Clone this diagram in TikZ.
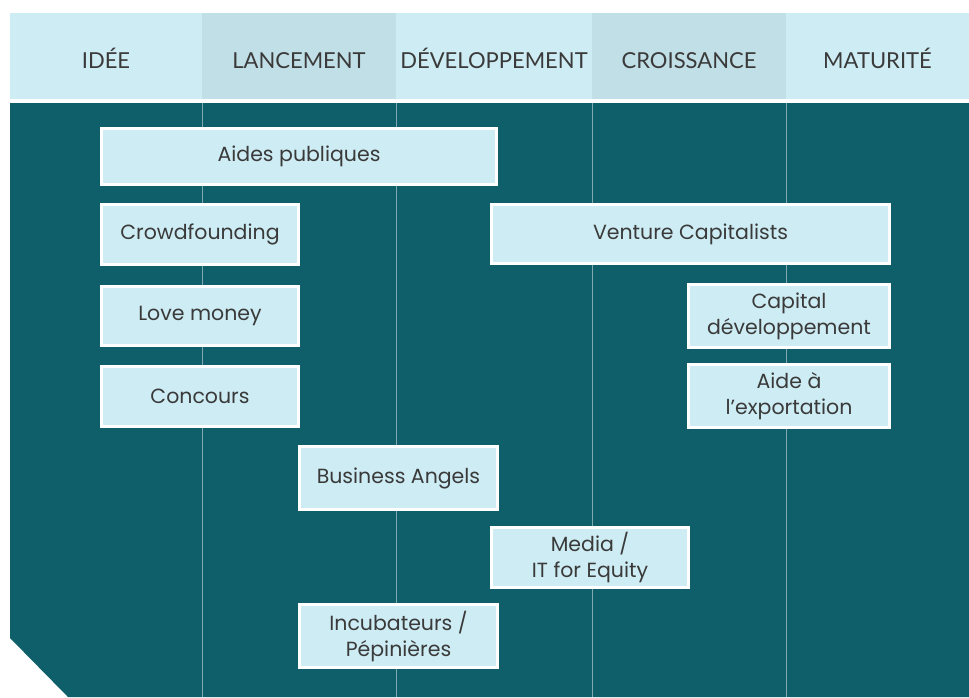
\documentclass[tikz,border=0pt]{standalone}
\usepackage{fontspec}
\setmainfont{Poppins}
\newfontfamily\phasefont{Lato}
\usetikzlibrary{positioning}
\definecolor{darkteal}{HTML}{0F5F6B}
\definecolor{paleblue}{HTML}{CDECF3}
\definecolor{shadeblue}{HTML}{C1DFE6}
\definecolor{gridline}{HTML}{7FA8AF}
\definecolor{inkgray}{HTML}{3A3A3A}

\begin{document}
\begin{tikzpicture}[x=1pt,y=-1pt,
    phase/.style={fill=paleblue, text=inkgray, inner sep=0pt, minimum height=86pt,
      text height=24pt, text depth=0pt, font=\phasefont\fontsize{22}{26}\selectfont},
    box/.style={draw=white, line width=3pt, fill=paleblue, text=inkgray, inner sep=0pt,
      align=center, font=\fontsize{20.5}{26}\selectfont}]
  \useasboundingbox[fill=white] (0,0) rectangle (969,697);

  % header: the five phases
  \node[phase, minimum width=192pt] (idee) at (106,56) {IDÉE};
  \node[phase, fill=shadeblue, minimum width=194pt] (lancement) at (299,56) {LANCEMENT};
  \node[phase, minimum width=196pt] (dev) at (494,56) {DÉVELOPPEMENT};
  \node[phase, fill=shadeblue, minimum width=194pt] (croissance) at (689,56) {CROISSANCE};
  \node[phase, minimum width=183pt] (maturite) at (877.5,56) {MATURITÉ};

  % dark panel with the cut corner
  \fill[darkteal] (10,103) -- (969,103) -- (969,697) -- (68,697) -- (10,638) -- cycle;
  \foreach \n in {idee,lancement,dev,croissance}
    \draw[gridline, line width=1pt] (\n.south east) ++(0,4) -- ++(0,594);

  % sources of funding
  \node[box, minimum width=395pt, minimum height=56pt] (aides) at (299,156) {Aides publiques};
  \node[box, minimum width=197pt, minimum height=60pt] (crowd) at (200,234.5) {Crowdfounding};
  \node[box, minimum width=398pt, minimum height=59pt] (venture) at (690.5,234) {Venture Capitalists};
  \node[box, minimum width=197pt, minimum height=59pt] (love) at (200,316) {Love money};
  \node[box, minimum width=201pt, minimum height=63pt] (capdev) at (789,316) {Capital\\développement};
  \node[box, minimum width=197pt, minimum height=60pt] (concours) at (200,396.5) {Concours};
  \node[box, minimum width=201pt, minimum height=63pt] (export) at (789,396) {Aide à\\l’exportation};
  \node[box, minimum width=198pt, minimum height=63pt] (angels) at (398.5,478) {Business Angels};
  \node[box, minimum width=197pt, minimum height=60pt] (media) at (590,557.5) {Media /\\IT for Equity};
  \node[box, minimum width=198pt, minimum height=63pt] (incub) at (398.5,636) {Incubateurs /\\Pépinières};
\end{tikzpicture}
\end{document}
